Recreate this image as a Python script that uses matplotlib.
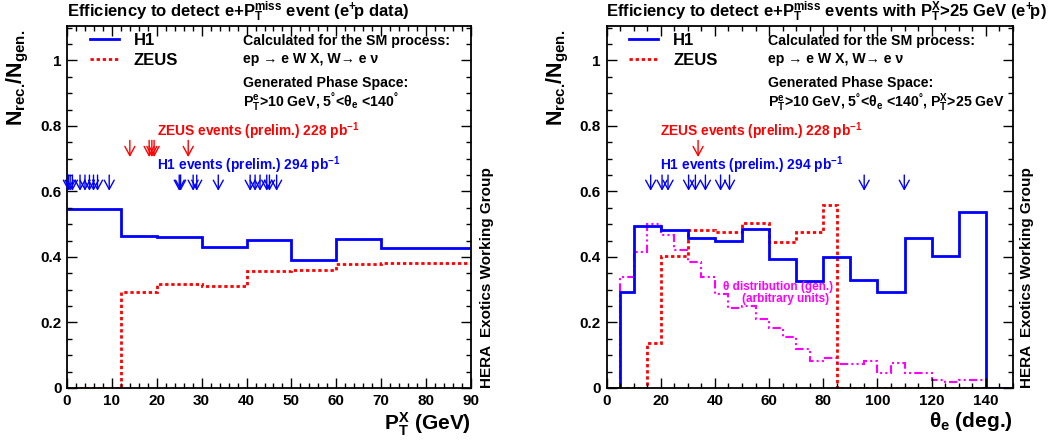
import matplotlib
matplotlib.use("Agg")
import matplotlib.pyplot as plt
from matplotlib.ticker import MultipleLocator

plt.rcParams.update({
    "font.family": ["Liberation Sans", "DejaVu Sans"],
    "font.weight": "bold",
    "axes.labelweight": "bold",
    "mathtext.fontset": "custom",
    "mathtext.rm": "Liberation Sans:bold",
    "mathtext.it": "Liberation Sans:bold",
    "mathtext.bf": "Liberation Sans:bold",
    "mathtext.sf": "Liberation Sans:bold",
    "mathtext.default": "regular",
    "mathtext.fallback": "stixsans",
})

# ---- efficiency vs P_T^X -------------------------------------------------
ptx_edges = [0, 12, 20, 30, 40, 50, 60, 70, 90]
ptx_h1 = [0.546, 0.463, 0.460, 0.431, 0.453, 0.391, 0.455, 0.428]
ptx_zeus = [0.0, 0.292, 0.316, 0.311, 0.357, 0.360, 0.377, 0.381]

ptx_zeus_events = [14.0, 18.3, 18.9, 19.4, 27.0]
ptx_h1_events = [0.3, 0.7, 1.2, 2.9, 4.0, 5.0, 5.9, 6.8, 9.4, 25.0, 25.3,
                 28.1, 28.9, 33.7, 40.8, 41.9, 43.0, 44.5, 45.1, 46.7]

# ---- efficiency vs theta_e ----------------------------------------------
th_edges_h1 = [0, 5, 10, 20, 30, 40, 50, 60, 70, 80, 90, 100, 110, 120, 130, 140, 150]
th_h1 = [0.0, 0.294, 0.493, 0.482, 0.457, 0.449, 0.486, 0.394, 0.327, 0.399,
         0.331, 0.292, 0.459, 0.404, 0.536, 0.0]

th_edges_zeus = [0, 15, 20, 30, 40, 50, 60, 70, 80, 85, 150]
th_zeus = [0.0, 0.136, 0.403, 0.482, 0.475, 0.503, 0.445, 0.477, 0.559, 0.0]

th_edges_gen = list(range(0, 155, 5))
th_gen = [0.0, 0.338, 0.416, 0.501, 0.467, 0.421, 0.386, 0.338, 0.286, 0.243,
          0.250, 0.211, 0.182, 0.157, 0.119, 0.083, 0.091, 0.073, 0.072, 0.082,
          0.045, 0.075, 0.047, 0.046, 0.024, 0.019, 0.024, 0.024, 0.0, 0.0]

th_zeus_events = [33.8]
th_h1_events = [16.3, 20.5, 22.7, 30.3, 32.8, 36.5, 42.1, 45.4, 95.1, 109.9]

BLUE = "#0000ff"
RED = "#ff0000"
MAGENTA = "#ff00ff"
DOTTED = (0, (1.2, 1.0))

fig = plt.figure(figsize=(10.62, 4.41), dpi=100)
ax1 = fig.add_axes([0.0631, 0.1202, 0.3804, 0.8209])
ax2 = fig.add_axes([0.5711, 0.1202, 0.3827, 0.8209])


def style_axes(ax, xmax, xmajor, xminor):
    ax.set_xlim(0, xmax)
    ax.set_ylim(0, 1.105)
    ax.xaxis.set_major_locator(MultipleLocator(xmajor))
    ax.xaxis.set_minor_locator(MultipleLocator(xminor))
    ax.yaxis.set_minor_locator(MultipleLocator(0.05))
    ax.tick_params(which="both", direction="in", top=True, right=True,
                   labelsize=11, width=1.0, pad=4)
    ax.tick_params(which="major", length=7)
    ax.tick_params(which="minor", length=3.5)
    ax.set_yticks([0, 0.2, 0.4, 0.6, 0.8, 1.0])
    ax.set_yticklabels(["0", "0.2", "0.4", "0.6", "0.8", "1"])
    for lab in ax.get_xticklabels() + ax.get_yticklabels():
        lab.set_fontweight("bold")
    for sp in ax.spines.values():
        sp.set_linewidth(1.3)
    ax.set_ylabel(r"$N_{rec.}\!/N_{gen.}$", fontsize=15.5, loc="top")
    ax.yaxis.set_label_coords(-0.088, 0.99)


def draw_arrows(ax, xs, color, y_top, y_tip):
    for x in xs:
        ax.annotate("", xy=(x, y_tip), xytext=(x, y_top),
                    arrowprops=dict(arrowstyle="->,head_length=0.55,head_width=0.3",
                                    color=color, lw=1.0, shrinkA=0, shrinkB=0,
                                    mutation_scale=12))


def draw_common(ax, xtext, txt_x, phase_space):
    h1, = ax.plot([], [], color=BLUE, lw=2.0, label="H1")
    ze, = ax.plot([], [], color=RED, lw=2.0, ls=DOTTED, label="ZEUS")
    ax.legend(handles=[h1, ze], loc="upper left", bbox_to_anchor=(0.025, 1.015),
              frameon=False, prop={"size": 12, "weight": "bold"},
              handlelength=1.75, handletextpad=0.9, labelspacing=0.28,
              borderaxespad=0.35)
    ax.text(txt_x, 1.060, "Calculated for the SM process:", fontsize=10.2,
            va="center", ha="left")
    ax.text(txt_x, 1.005, "ep → e W X, W→ e ν", fontsize=10.2,
            va="center", ha="left")
    ax.text(txt_x, 0.931, "Generated Phase Space:", fontsize=10.2,
            va="center", ha="left")
    ax.text(txt_x, 0.873, phase_space, fontsize=10.2, va="center", ha="left")
    ax.text(xtext, 0.783, r"ZEUS events (prelim.) 228 $pb^{-1}$", color=RED,
            fontsize=9.9, va="center", ha="left")
    ax.text(xtext, 0.681, r"H1 events (prelim.) 294 $pb^{-1}$", color=BLUE,
            fontsize=9.9, va="center", ha="left")


# left panel
style_axes(ax1, 90, 10, 2)
ax1.stairs(ptx_zeus, ptx_edges, color=RED, lw=2.0, ls=DOTTED, baseline=None)
ax1.stairs(ptx_h1, ptx_edges, color=BLUE, lw=2.0, baseline=None)
draw_arrows(ax1, ptx_zeus_events, RED, 0.756, 0.705)
draw_arrows(ax1, ptx_h1_events, BLUE, 0.650, 0.602)
draw_common(ax1, 20.0, 39.2,
            r"$P_T^e$>10 GeV, $5^{°}$<$θ_e$ <$140^{°}$")
ax1.set_xlabel(r"$P_T^X$ (GeV)", fontsize=15, loc="right", labelpad=2)

# right panel
style_axes(ax2, 150, 20, 5)
ax2.stairs(th_gen, th_edges_gen, color=MAGENTA, lw=1.5,
           ls=(0, (4, 1.5, 1, 1.5, 1, 1.5)), baseline=None)
ax2.stairs(th_zeus, th_edges_zeus, color=RED, lw=2.0, ls=DOTTED, baseline=None)
ax2.stairs(th_h1, th_edges_h1, color=BLUE, lw=2.0, baseline=None)
draw_arrows(ax2, th_zeus_events, RED, 0.756, 0.705)
draw_arrows(ax2, th_h1_events, BLUE, 0.650, 0.602)
draw_common(ax2, 19.7, 59.6,
            r"$P_T^e$>10 GeV, $5^{°}$<$θ_e$ <$140^{°}$, $P_T^X$>25 GeV")
ax2.text(63.3, 0.307, "θ distribution (gen.)", color=MAGENTA, fontsize=8.5,
         ha="center", va="center")
ax2.text(65.9, 0.272, "(arbitrary units)", color=MAGENTA, fontsize=8.5,
         ha="center", va="center")
ax2.set_xlabel(r"$θ_e$ (deg.)", fontsize=15, loc="right", labelpad=2)

# titles
fig.text(67 / 1062, 1 - 12 / 441,
         r"Efficiency to detect e+$P_T^{miss}$ event ($e^{+}\!p$ data)",
         fontsize=12, ha="left", va="center")
fig.text(606 / 1062, 1 - 12 / 441,
         r"Efficiency to detect e+$P_T^{miss}$ events with $P_T^X$>25 GeV ($e^{+}\!p$)",
         fontsize=12, ha="left", va="center")

# group label on the right of each panel
for xpix in (487, 1027):
    fig.text(xpix / 1062, 53 / 441, "HERA  Exotics Working Group", rotation=90,
             fontsize=11, ha="center", va="bottom")

fig.savefig("out.png", dpi=100)
